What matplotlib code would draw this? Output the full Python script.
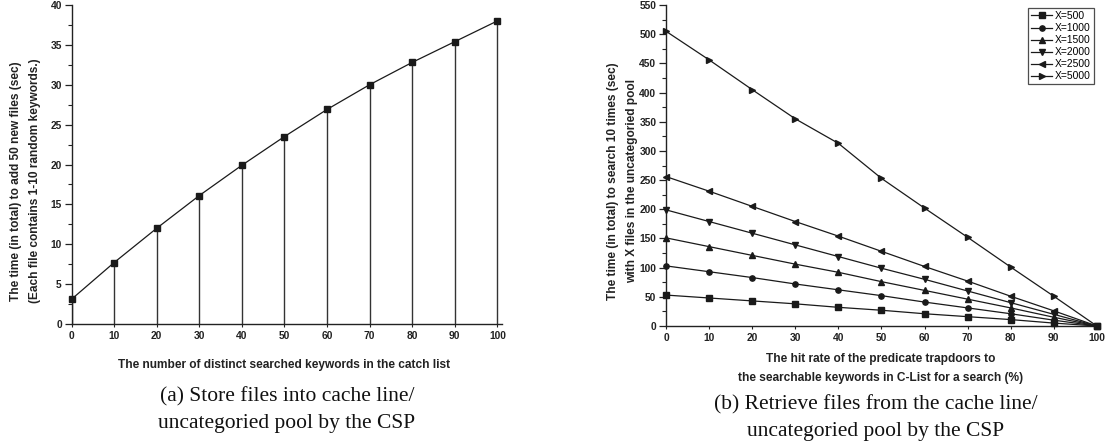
import matplotlib
matplotlib.use("Agg")
import matplotlib.pyplot as plt
from matplotlib.ticker import MultipleLocator

plt.rcParams['font.family'] = ['Liberation Sans', 'DejaVu Sans']

# ---- data (a) ----
kw_counts = [0, 10, 20, 30, 40, 50, 60, 70, 80, 90, 100]
store_time = [3.1, 7.7, 12.0, 16.1, 19.9, 23.5, 26.9, 30.0, 32.8, 35.4, 38.0]

# ---- data (b) ----
hit_rate = [0, 10, 20, 30, 40, 50, 60, 70, 80, 90, 100]
series_labels = ["X=500", "X=1000", "X=1500", "X=2000", "X=2500", "X=5000"]
t_500 = [53, 48, 43, 38, 32, 27, 21, 16, 11, 5, 0]
t_1000 = [103, 93, 83, 72, 62, 52, 41, 31, 21, 10, 0]
t_1500 = [151, 136, 121, 106, 92, 76, 61, 46, 31, 15, 0]
t_2000 = [199, 179, 159, 139, 119, 99, 80, 60, 40, 20, 0]
t_2500 = [256, 231, 205, 179, 154, 128, 102, 77, 51, 26, 0]
t_5000 = [505, 456, 405, 355, 313, 253, 202, 152, 101, 51, 0]
series_values = [t_500, t_1000, t_1500, t_2000, t_2500, t_5000]
markers = ['s', 'o', '^', 'v', '<', '>']

W, H = 1109, 448
fig = plt.figure(figsize=(W / 100, H / 100), dpi=100)

def px(x0, y_top, x1, y_bot):
    return [x0 / W, 1 - y_bot / H, (x1 - x0) / W, (y_bot - y_top) / H]

tick_fs = 7.4
lab_kw = dict(fontsize=8.6, fontweight='bold')
line_col = '#1a1a1a'

def style(ax):
    for s in ['top', 'right']:
        ax.spines[s].set_visible(False)
    for s in ['left', 'bottom']:
        ax.spines[s].set_linewidth(1.0)
        ax.spines[s].set_color('#222222')
    ax.tick_params(axis='y', which='major', direction='out', length=5, width=0.9, pad=2, colors='#222222')
    ax.tick_params(axis='y', which='minor', direction='out', length=3, width=0.8, colors='#222222')
    ax.tick_params(axis='x', which='major', direction='out', length=2, width=0.8, pad=3, colors='#222222')
    for lbl in ax.get_xticklabels() + ax.get_yticklabels():
        lbl.set_fontsize(tick_fs)
        lbl.set_fontweight('bold')
        lbl.set_color('#222222')

# ---- (a) ----
ax1 = fig.add_axes(px(71.5, 5, 502, 324))
ax1.plot(kw_counts, store_time, color=line_col, lw=0.9, marker='s', ms=3.8, clip_on=False, zorder=3)
ax1.vlines(kw_counts, 0, store_time, color='#333333', lw=1.0, zorder=2)
ax1.set_xlim(0, 101.1)
ax1.set_ylim(0, 40)
ax1.set_xticks(kw_counts)
ax1.yaxis.set_major_locator(MultipleLocator(5))
ax1.yaxis.set_minor_locator(MultipleLocator(2.5))
style(ax1)

# ---- (b) ----
ax2 = fig.add_axes(px(666, 5, 1099, 326))
for vals, lab, mk in zip(series_values, series_labels, markers):
    ax2.plot(hit_rate, vals, color=line_col, lw=0.9, marker=mk, ms=3.8, label=lab, clip_on=False, zorder=3)
ax2.set_xlim(0, 100.5)
ax2.set_ylim(0, 550)
ax2.set_xticks(hit_rate)
ax2.yaxis.set_major_locator(MultipleLocator(50))
ax2.yaxis.set_minor_locator(MultipleLocator(25))
style(ax2)
leg = ax2.legend(loc='upper right', bbox_to_anchor=((1094 - 666) / (1099 - 666), (326 - 8) / (326 - 5)),
                 fontsize=7.4, frameon=True, fancybox=False, edgecolor='#222222',
                 handlelength=2.0, handletextpad=0.3, labelspacing=0.2, borderpad=0.3,
                 borderaxespad=0.0)
leg.get_frame().set_linewidth(0.9)

# ---- labels as figure text ----
fig.text(16.5 / W, 1 - 181 / H, "The time (in total) to add 50 new files (sec)", rotation=90,
         ha='center', va='center', color='#222222', **lab_kw)
fig.text(35.5 / W, 1 - 181 / H, "(Each file contains 1-10 random keywords.)", rotation=90,
         ha='center', va='center', color='#222222', **lab_kw)
fig.text(284 / W, 1 - 365 / H, "The number of distinct searched keywords in the catch list",
         ha='center', va='center', color='#222222', **lab_kw)

fig.text(613 / W, 1 - 181 / H, "The time (in total) to search 10 times (sec)", rotation=90,
         ha='center', va='center', color='#222222', **lab_kw)
fig.text(632 / W, 1 - 181 / H, "with X files in the uncategoried pool", rotation=90,
         ha='center', va='center', color='#222222', **lab_kw)
fig.text(881 / W, 1 - 359 / H, "The hit rate of the predicate trapdoors to",
         ha='center', va='center', color='#222222', **lab_kw)
fig.text(881 / W, 1 - 378 / H, "the searchable keywords in C-List for a search (%)",
         ha='center', va='center', color='#222222', **lab_kw)

cap_kw = dict(fontsize=15.5, family='Liberation Serif', ha='center', va='center', color='#111111')
fig.text(287 / W, 1 - 397 / H, "(a) Store files into cache line/", **cap_kw)
fig.text(287 / W, 1 - 423 / H, "uncategoried pool by the CSP", **cap_kw)
fig.text(876 / W, 1 - 405 / H, "(b) Retrieve files from the cache line/", **cap_kw)
fig.text(876 / W, 1 - 431 / H, "uncategoried pool by the CSP", **cap_kw)

fig.savefig("out.png", dpi=100)
